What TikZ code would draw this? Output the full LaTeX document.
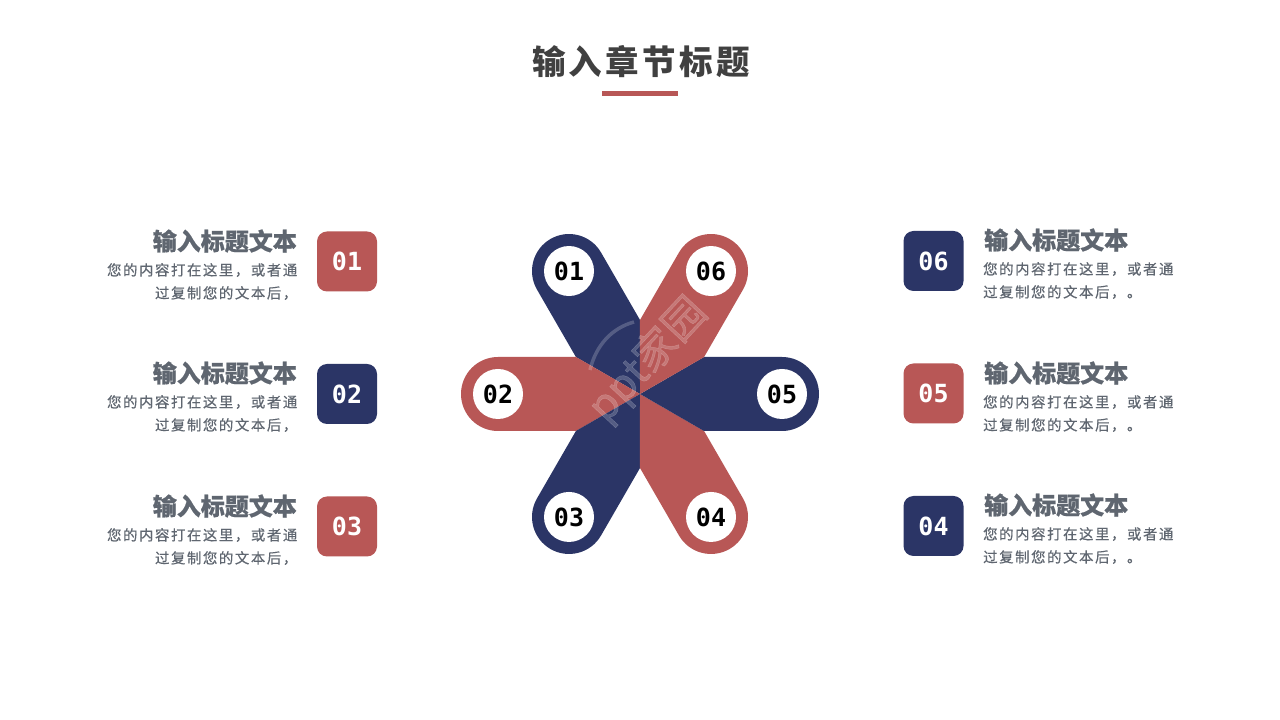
\documentclass[tikz,border=0pt]{standalone}
\usepackage{fontspec}
\setmainfont{Liberation Sans}
\newfontfamily\cjktitle[LetterSpace=10]{Noto Sans CJK SC}
\newfontfamily\cjkhead[LetterSpace=0,FakeBold=0.6,BoldFeatures={FakeBold=0.6}]{Noto Sans CJK SC}
\newfontfamily\cjkbody[LetterSpace=11,FakeBold=0.4]{Noto Sans CJK SC}
\newfontfamily\cjkwm[FakeBold=1]{Noto Sans CJK SC}
\newfontfamily\digitfont{DejaVu Sans Mono}
\definecolor{navy}{HTML}{2B3566}
\definecolor{brick}{HTML}{B85756}
\definecolor{headgray}{HTML}{5F6670}
\definecolor{titlegray}{HTML}{404040}
\tikzset{
  numbox/.style={rounded corners=10pt,minimum width=60pt,minimum height=60pt,inner sep=0pt,text=white,font=\digitfont\bfseries\fontsize{25}{25}\selectfont},
  hub/.style={circle,fill=white,minimum size=50pt,inner sep=0pt,text=black,font=\digitfont\bfseries\fontsize{25}{25}\selectfont},
  headtext/.style={inner sep=0pt,text=headgray,font=\cjkhead\bfseries\fontsize{24}{24}\selectfont},
  bodytext/.style={inner sep=0pt,text=headgray,font=\cjkbody\fontsize{14.4}{23}\selectfont},
  wmark/.style={white,opacity=.2}
}
\begin{document}
\begin{tikzpicture}[x=1pt,y=1pt]
\path[use as bounding box,fill=white] (0,0) rectangle (1280,720);
% title
\node[inner sep=0pt,text=titlegray,font=\cjktitle\bfseries\fontsize{33.5}{36}\selectfont] (title) at (641,658) {输入章节标题};
\fill[brick] (602,624) rectangle (678,629);
% petals
\foreach \ang/\col/\num in {120/navy/01,180/brick/02,240/navy/03,300/brick/04,0/navy/05,60/brick/06}{
  \begin{scope}[shift={(640,326)},rotate=\ang]
    \fill[\col] (0,0) -- (64,37) -- (142,37) arc[start angle=90,end angle=-90,radius=37] -- (64,-37) -- cycle;
    \node[hub] (p\num) at (142,0) {\num};
  \end{scope}
}
% watermark
\node[wmark,rotate=47,inner sep=0pt,font=\cjkwm\fontsize{42}{42}\selectfont] (wm) at (648,360) {ppt家园};
\draw[wmark,line width=3.5pt] (590,350) .. controls (596,375) and (612,392) .. (634,398);
% left column
\node[numbox,fill=brick] (b1) at (347,458.5) {01};
\node[numbox,fill=navy] (b2) at (347,326) {02};
\node[numbox,fill=brick] (b3) at (347,193.5) {03};
\foreach \y/\n in {479/1,347/2,214/3}{
  \node[headtext,anchor=east] (lh\n) at (297,\y) {输入标题文本};
  \node[bodytext,anchor=north east,align=right] (lb\n) at (297.5,\y-22) {您的内容打在这里，或者通\\过复制您的文本后，};
}
% right column
\node[numbox,fill=navy] (b6) at (933.5,459) {06};
\node[numbox,fill=brick] (b5) at (933.5,326.5) {05};
\node[numbox,fill=navy] (b4) at (933.5,194) {04};
\foreach \y/\n in {480/6,347/5,215/4}{
  \node[headtext,anchor=west] (rh\n) at (984,\y) {输入标题文本};
  \node[bodytext,anchor=north west,align=left] (rb\n) at (983,\y-22) {您的内容打在这里，或者通\\过复制您的文本后，。};
}
\end{tikzpicture}
\end{document}
